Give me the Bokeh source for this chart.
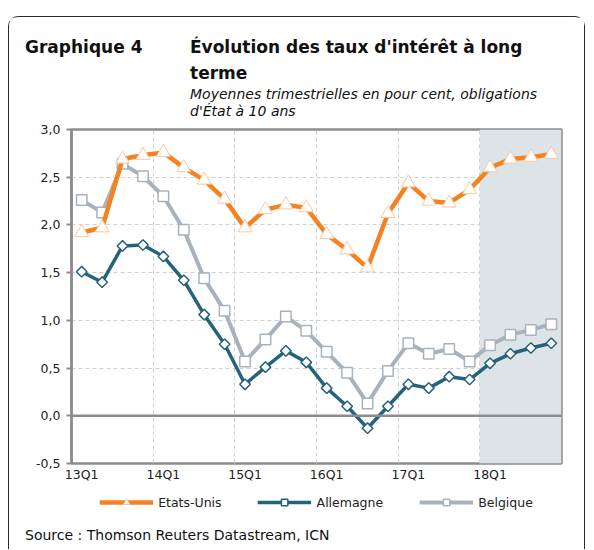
from bokeh.plotting import figure
from bokeh.layouts import column
from bokeh.models import (Range1d, FixedTicker, Legend, LegendItem, BoxAnnotation,
                          Span, Label, Grid)
from bokeh.embed import file_html
from bokeh.resources import INLINE

# ---------------- data ----------------
quarters = [f"{y}Q{q}" for y in range(13, 19) for q in range(1, 5)]
us = [1.92, 1.97, 2.69, 2.73, 2.76, 2.60, 2.47, 2.27, 1.97, 2.16, 2.21, 2.18,
      1.90, 1.74, 1.55, 2.12, 2.44, 2.25, 2.23, 2.37, 2.60, 2.69, 2.71, 2.74]
de = [1.51, 1.40, 1.78, 1.79, 1.67, 1.42, 1.06, 0.75, 0.33, 0.51, 0.68, 0.56,
      0.29, 0.10, -0.13, 0.10, 0.33, 0.29, 0.41, 0.38, 0.55, 0.65, 0.71, 0.76]
be = [2.26, 2.13, 2.64, 2.51, 2.30, 1.95, 1.44, 1.10, 0.57, 0.80, 1.04, 0.89,
      0.67, 0.45, 0.13, 0.47, 0.76, 0.65, 0.70, 0.57, 0.74, 0.85, 0.90, 0.96]
y_ticks = [-0.5, 0.0, 0.5, 1.0, 1.5, 2.0, 2.5, 3.0]
forecast_start = "18Q1"
series_names = ["Etats-Unis", "Allemagne", "Belgique"]

FONT = "DejaVu Sans"
ORANGE = "#f58220"
TEAL = "#24637a"
GREY = "#a8b2bc"
FRAME = "#8c8c8c"
TXT = "#222222"

xs = list(range(len(quarters)))
q1_idx = [i for i, q in enumerate(quarters) if q.endswith("Q1")]

# ---------------- main chart ----------------
p = figure(width=575, height=476,
           min_border_left=62, min_border_top=112, min_border_right=23, min_border_bottom=30,
           x_range=Range1d(-0.5, len(quarters) - 0.5), y_range=Range1d(y_ticks[0], y_ticks[-1]),
           output_backend="svg", toolbar_location=None, background_fill_color="white",
           border_fill_color="white")

p.outline_line_color = FRAME
p.outline_line_width = 2.5
p.xgrid.visible = False
p.ygrid.visible = False

vgrid = Grid(dimension=0, ticker=FixedTicker(ticks=[i - 0.5 for i in q1_idx[1:]]),
             grid_line_color="#cfcfcf", grid_line_dash="4 3", grid_line_width=1)
hgrid = Grid(dimension=1, ticker=FixedTicker(ticks=[t for t in y_ticks if t not in (0.0, y_ticks[0], y_ticks[-1])]),
             grid_line_color="#cfcfcf", grid_line_dash="4 3", grid_line_width=1)
p.add_layout(vgrid)
p.add_layout(hgrid)

fs = quarters.index(forecast_start) - 0.5
p.add_layout(BoxAnnotation(left=fs, fill_color="#dde4e8", fill_alpha=1.0,
                           line_color=None, level="underlay"))
p.add_layout(Span(location=0, dimension="width", line_color=FRAME, line_width=2.5))

xa = p.xaxis[0]
xa.ticker = FixedTicker(ticks=q1_idx)
xa.major_label_overrides = {i: quarters[i] for i in q1_idx}
xa.axis_line_color = None
xa.major_tick_line_color = None
xa.minor_tick_line_color = None
xa.major_tick_in = 0
xa.major_tick_out = 0
xa.major_label_standoff = 3
xa.major_label_text_font = FONT
xa.major_label_text_font_size = "12.5px"
xa.major_label_text_color = TXT

ya = p.yaxis[0]
ya.ticker = FixedTicker(ticks=y_ticks)
ya.major_label_overrides = {t: f"{t:.1f}".replace(".", ",") for t in y_ticks}
ya.axis_line_color = FRAME
ya.axis_line_width = 2.5
ya.major_tick_line_color = FRAME
ya.major_tick_line_width = 2
ya.major_tick_in = 0
ya.major_tick_out = 5
ya.minor_tick_line_color = None
ya.major_label_standoff = 6
ya.major_label_text_font = FONT
ya.major_label_text_font_size = "12.5px"
ya.major_label_text_color = TXT

def draw_series(fig):
    bl = fig.line(xs, be, line_color=GREY, line_width=4)
    bp = fig.scatter(xs, be, marker="square", size=10.5, fill_color="white",
                     line_color=GREY, line_width=1.5)
    dl = fig.line(xs, de, line_color=TEAL, line_width=3.5)
    dp = fig.scatter(xs, de, marker="square", angle=0.7854, size=7.5, fill_color="white",
                     line_color=TEAL, line_width=1.5)
    ul = fig.line(xs, us, line_color=ORANGE, line_width=4.5)
    up = fig.scatter(xs, us, marker="triangle", size=14, fill_color="white",
                     line_color="#f9c8a0", line_width=1)
    return [(ul, up), (dl, dp), (bl, bp)]

draw_series(p)

def lab(fig, x, y, text, size, style="normal", place="above"):
    fig.add_layout(Label(x=x, y=y, x_units="canvas", y_units="canvas", text=text,
                         text_font=FONT, text_font_size=size, text_font_style=style,
                         text_color="#111111", text_baseline="middle", text_align="left"), place)

lab(p, 15.5, 29.5, "Graphique 4", "17px", "bold")
lab(p, 180.5, 29.5, "Évolution des taux d'intérêt à long", "17px", "bold")
lab(p, 180.5, 55.5, "terme", "17px", "bold")
lab(p, 180.5, 76.5, "Moyennes trimestrielles en pour cent, obligations", "14px", "italic")
lab(p, 180.5, 93.5, "d'État à 10 ans", "14px", "italic")

# ---------------- legend + source strip ----------------
p2 = figure(width=575, height=56, min_border_left=0, min_border_right=0,
            min_border_top=0, min_border_bottom=0, x_axis_type=None, y_axis_type=None,
            x_range=Range1d(-0.5, len(quarters) - 0.5), y_range=Range1d(10, 11),
            output_backend="svg", toolbar_location=None, background_fill_color="white",
            border_fill_color="white")
p2.outline_line_color = None
leg_r = draw_series(p2)  # outside the strip's y range: only used by the legend

legend = Legend(items=[LegendItem(label=series_names[k], renderers=list(leg_r[k])) for k in range(3)],
                orientation="horizontal", location="top_center", glyph_width=54, glyph_height=16,
                label_standoff=5, spacing=36, padding=0, margin=1,
                border_line_color=None, background_fill_alpha=0,
                label_text_font=FONT, label_text_font_size="12.5px", label_text_color=TXT)
p2.add_layout(legend)

lab(p2, 15.5, 41.5, "Source : Thomson Reuters Datastream, ICN", "14px", place="below")

layout = column(p, p2, spacing=0,
                styles={"border": "1.5px solid #2b2b2b", "border-bottom": "none",
                        "border-radius": "10px 10px 0 0", "margin-top": "16px",
                        "margin-left": "8px"})

open("out.html", "w").write(file_html(layout, INLINE))
